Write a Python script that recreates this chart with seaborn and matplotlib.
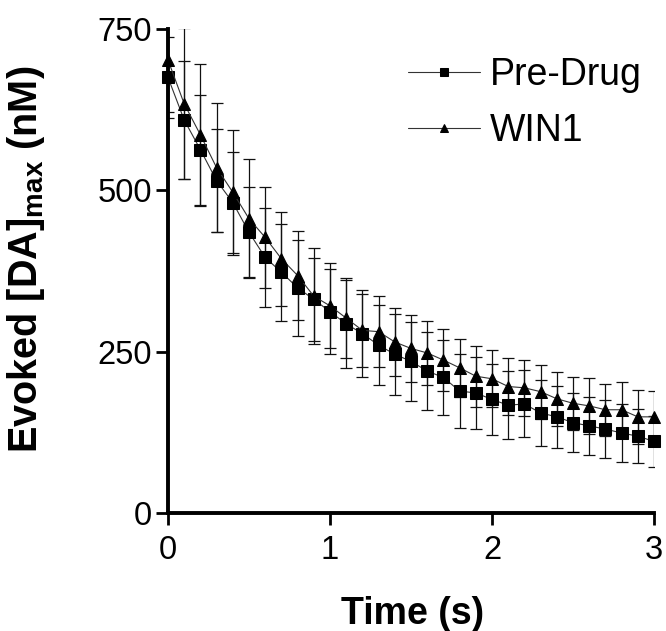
import numpy as np
import pandas as pd
import matplotlib
matplotlib.use("Agg")
import matplotlib.pyplot as plt
import seaborn as sns

time_s = [0.0, 0.1, 0.2, 0.3, 0.4, 0.5, 0.6, 0.7, 0.8, 0.9, 1.0,
          1.1, 1.2, 1.3, 1.4, 1.5, 1.6, 1.7, 1.8, 1.9, 2.0,
          2.1, 2.2, 2.3, 2.4, 2.5, 2.6, 2.7, 2.8, 2.9, 3.0]

pre_drug = [675, 609, 563, 515, 481, 435, 396, 373, 349, 331, 312,
            293, 278, 260, 246, 235, 220, 210, 189, 186, 176,
            167, 169, 155, 149, 140, 135, 130, 124, 119, 111]
pre_drug_sem = [63, 92, 85, 80, 78, 70, 77, 75, 74, 64, 66,
                68, 68, 62, 63, 61, 60, 58, 57, 56, 55,
                53, 52, 51, 48, 46, 45, 45, 45, 42, 39]

win1 = [702, 634, 586, 535, 497, 456, 427, 394, 368, 336, 321,
        302, 283, 281, 265, 255, 248, 237, 225, 212, 208,
        196, 194, 188, 177, 170, 166, 160, 160, 149, 149]
win1_sem = [80, 117, 110, 100, 97, 92, 78, 73, 69, 74, 66,
            62, 57, 55, 53, 52, 50, 48, 45, 47, 44,
            44, 43, 42, 42, 41, 43, 40, 43, 42, 40]

series_names = ["Pre-Drug", "WIN1"]
y_ticks = [0, 250, 500, 750]
x_ticks = [0, 1, 2, 3]

df = pd.concat([
    pd.DataFrame({"Time": time_s, "DA": pre_drug, "SEM": pre_drug_sem, "Group": series_names[0]}),
    pd.DataFrame({"Time": time_s, "DA": win1, "SEM": win1_sem, "Group": series_names[1]}),
])

sns.set_theme(style="ticks")
plt.rcParams["font.family"] = ["Liberation Sans", "DejaVu Sans"]
plt.rcParams["mathtext.fontset"] = "custom"
plt.rcParams["mathtext.bf"] = "Liberation Sans:bold"
plt.rcParams["mathtext.rm"] = "Liberation Sans"
for k in ["text.color", "axes.labelcolor", "xtick.color", "ytick.color", "axes.edgecolor"]:
    plt.rcParams[k] = "black"

fig = plt.figure(figsize=(6.66, 6.31), dpi=100)
ax = fig.add_axes([168 / 666, 1 - 513 / 631, (654 - 168) / 666, (513 - 29) / 631])

# error bars
for name in series_names:
    d = df[df["Group"] == name]
    ax.errorbar(d["Time"], d["DA"], yerr=d["SEM"], fmt="none", ecolor="#111111",
                elinewidth=0.9, capsize=4, capthick=0.9, zorder=2)

sns.lineplot(data=df, x="Time", y="DA", hue="Group", style="Group",
             markers={"Pre-Drug": "s", "WIN1": "^"}, dashes=False,
             palette={"Pre-Drug": "#333333", "WIN1": "#333333"},
             linewidth=0.8, markersize=8, markeredgecolor="black",
             markerfacecolor="black", ax=ax, zorder=3, clip_on=False)

ax.set_xlim(0, 3)
ax.set_ylim(0, 750)
ax.set_xticks(x_ticks)
ax.set_yticks(y_ticks)
ax.set_xticklabels([str(t) for t in x_ticks])
ax.set_yticklabels([str(t) for t in y_ticks])
for s in ["top", "right"]:
    ax.spines[s].set_visible(False)
for s in ["left", "bottom"]:
    ax.spines[s].set_linewidth(2.8)
    ax.spines[s].set_color("black")
ax.tick_params(axis="both", direction="out", length=8.5, width=2.0, colors="black",
               labelsize=23.5)
ax.tick_params(axis="y", pad=3)
ax.tick_params(axis="x", pad=7)

ax.set_xlabel("Time (s)", fontsize=27, fontweight="bold")
ax.set_ylabel(r"Evoked [DA]$_{\mathbf{max}}$ (nM)", fontsize=28.5, fontweight="bold")
ax.xaxis.set_label_coords((413 - 168) / 486, (513 - 596) / 484)
ax.yaxis.set_label_coords((47 - 168) / 486, (513 - 259) / 484)

handles, labels = ax.get_legend_handles_labels()
if ax.get_legend() is not None:
    ax.get_legend().remove()
leg = fig.legend(handles, labels, loc="upper left",
                 bbox_to_anchor=(408 / 666, 1 - 57 / 631),
                 frameon=False, fontsize=27, markerscale=0.7, handlelength=1.92,
                 handletextpad=0.27, labelspacing=0.53, borderpad=0,
                 borderaxespad=0)
for h in leg.legend_handles:
    h.set_linewidth(0.8)

fig.savefig("out.png", dpi=100)
